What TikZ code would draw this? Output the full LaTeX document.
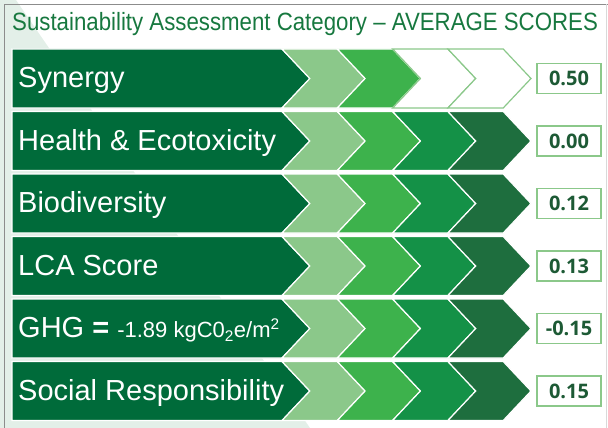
\documentclass[tikz,border=0pt]{standalone}
\usepackage{fontspec}
\setmainfont{Liberation Sans}
\newfontfamily\scorefont{Open Sans}
\definecolor{band}{HTML}{006B3A}
\definecolor{lite}{HTML}{8BC88A}
\definecolor{midgreen}{HTML}{3DB24C}
\definecolor{deepgreen}{HTML}{149147}
\definecolor{darkgreen}{HTML}{1E6E3E}
\definecolor{headgreen}{HTML}{17783F}
\definecolor{pale}{HTML}{E3EFE8}
\definecolor{scoregreen}{HTML}{1D5A35}

\begin{document}
\begin{tikzpicture}[x=1pt, y=-1pt,
  lvlA/.style={fill=lite, draw=white},
  lvlB/.style={fill=midgreen, draw=white},
  lvlC/.style={fill=deepgreen, draw=white},
  lvlD/.style={fill=darkgreen, draw=white},
  blank/.style={fill=white, draw=lite},
  rowlabel/.style={text=white, anchor=base west, inner sep=0pt, font=\fontsize{29}{34}\selectfont},
  scorebox/.style={draw=lite, fill=white, line width=1.2pt, minimum width=64pt, minimum height=30pt,
    text=scoregreen, font=\scorefont\bfseries\fontsize{20}{24}\selectfont}]
\useasboundingbox (0,0) rectangle (608,428);

% background and frame
\fill[pale] (0,0) -- (16,0) -- (310,428) -- (0,428) -- cycle;
\draw[gray!90, line width=1.5pt] (4.5,428) -- (4.5,4.5) -- (608,4.5);
\draw[gray!30, line width=1pt] (606,4.5) -- (606,428);

\node[text=headgreen, anchor=base west, inner sep=0pt] (head) at (12,31)
  {\scalebox{0.89}[1]{\fontsize{25}{30}\selectfont Sustainability Assessment Category -- AVERAGE SCORES}};

% one row per category
\foreach \lab/\val/\cols [count=\r] in {
    {Synergy}/0.50/{lvlA,lvlB,blank,blank},
    {Health \& Ecotoxicity}/0.00/{lvlA,lvlB,lvlC,lvlD},
    {Biodiversity}/0.12/{lvlA,lvlB,lvlC,lvlD},
    {LCA Score}/0.13/{lvlA,lvlB,lvlC,lvlD},
    {GHG {\bfseries =} {\fontsize{22}{26}\selectfont -1.89 kgC0\textsubscript{2}e/m\textsuperscript{2}}}/-0.15/{lvlA,lvlB,lvlC,lvlD},
    {Social Responsibility}/0.15/{lvlA,lvlB,lvlC,lvlD}} {
  \pgfmathsetmacro\t{49+62.5*(\r-1)}
  \fill[band, draw=white, line width=1.2pt] (12,\t) -- (282,\t) -- ++(27.8,29.5) -- ++(-27.8,29.5) -- (12,\t+59) -- cycle;
  \foreach \c [count=\k] in \cols {
    \pgfmathsetmacro\xa{282+55.3*(\k-1)}
    \path[\c, line width=1.2pt] (\xa,\t) -- ++(55.3,0) -- ++(27.8,29.5) -- ++(-27.8,29.5) -- ++(-55.3,0) -- ++(27.8,-29.5) -- cycle;
  }
  \node[rowlabel] (lab\r) at (18,\t+38.5) {\lab};
  \node[scorebox] (val\r) at (569,\t+29.5) {\val};
}
\end{tikzpicture}
\end{document}
